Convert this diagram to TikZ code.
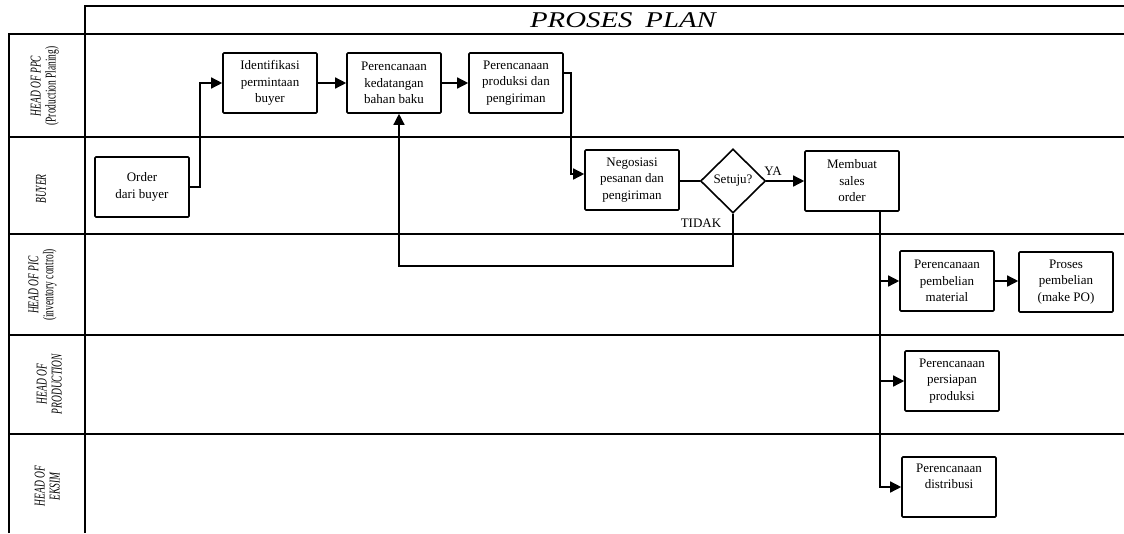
\documentclass[tikz,border=0pt]{standalone}
\usepackage{fontspec}
\usepackage{graphicx}
\setmainfont{Liberation Serif}
\usetikzlibrary{arrows.meta,shapes.geometric}
\newcommand\lanetext[1]{\scalebox{0.63}[1]{\begin{tabular}{@{}c@{}}#1\end{tabular}}}
\begin{document}
\begin{tikzpicture}[x=1pt,y=-1pt,
  frame/.style={line width=1.9pt},
  box/.style={draw, line width=1.6pt, rounded corners=1pt, minimum width=94pt,
    minimum height=60pt, inner sep=0pt, align=center,
    font=\fontsize{13}{16.5}\selectfont},
  decision/.style={draw, diamond, line width=1.6pt, minimum width=65pt,
    minimum height=64pt, inner sep=0pt, font=\fontsize{13}{16.5}\selectfont},
  lane/.style={rotate=90, inner sep=0pt, font=\fontsize{15}{15}\selectfont},
  lbl/.style={inner sep=0pt, font=\fontsize{13}{16.5}\selectfont},
  link/.style={line width=1.4pt},
  arr/.style={line width=1.4pt, -{Triangle[length=11pt,width=11pt]}}]
\useasboundingbox (0,0) rectangle (1124,533);

% swimlane frame
\draw[frame] (85,533) -- (85,6) -- (1124,6);
\draw[frame] (9,533) -- (9,34) -- (1124,34);
\foreach \yy in {137,234,335,434} \draw[frame] (9,\yy) -- (1124,\yy);

% title
\node[inner sep=0pt, font=\fontsize{22.5}{24}\selectfont\itshape] (title) at (623,20)
  {\scalebox{1.28}[1]{PROSES\hspace{0.45em}PLAN}};

% lane labels
\node[lane] (lppc)  at (45,86)  {\lanetext{\textit{HEAD OF PPC}\\(Production Planing)}};
\node[lane] (lbuy)  at (43,189) {\lanetext{\textit{BUYER}}};
\node[lane] (lpic)  at (43,285) {\lanetext{\textit{HEAD OF PIC}\\(inventory control)}};
\node[lane] (lprod) at (51,384) {\lanetext{\textit{HEAD OF}\\\textit{PRODUCTION}}};
\node[lane] (leks)  at (49,486) {\lanetext{\textit{HEAD OF}\\\textit{EKSIM}}};

% process steps
\node[box] (order)  at (142,187) {Order\\dari buyer};
\node[box] (ident)  at (270,83)  {Identifikasi\\permintaan\\buyer};
\node[box] (kedat)  at (394,83)  {Perencanaan\\kedatangan\\bahan baku};
\node[box] (prod)   at (516,83)  {Perencanaan\\produksi dan\\pengiriman};
\node[box] (nego)   at (632,180) {Negosiasi\\pesanan dan\\pengiriman};
\node[decision] (setuju) at (733,181) {Setuju?};
\node[box] (sales)  at (852,181) {Membuat\\sales\\order};
\node[box] (beli)   at (947,281) {Perencanaan\\pembelian\\material};
\node[box] (po)     at (1066,282) {Proses\\pembelian\\(make PO)};
\node[box] (siap)   at (952,381) {Perencanaan\\persiapan\\produksi};
\node[box] (distr)  at (949,487) {Perencanaan\\distribusi\\\strut};

% decision labels
\node[lbl] (ya)    at (773,171) {YA};
\node[lbl] (tidak) at (701,223) {TIDAK};

% connectors
\draw[arr] (order.east) -- ++(10,0) |- (ident.west);
\draw[arr] (ident.east) -- (kedat.west);
\draw[arr] (kedat.east) -- (prod.west);
\draw[arr] ([yshift=10pt]prod.east) -- ++(7,0) |- ([yshift=6pt]nego.west);
\draw[link] (setuju.west -| nego.east) -- (setuju.west);
\draw[arr] (setuju.east) -- (setuju.east -| sales.west);
\draw[arr] (setuju.south) -- ++(0,52) -| ([xshift=5pt]kedat.south);
\draw[arr] ([xshift=28pt]sales.south) |- (beli.west);
\draw[arr] ([xshift=28pt]sales.south) |- (siap.west);
\draw[arr] ([xshift=28pt]sales.south) |- (distr.west);
\draw[arr] (beli.east) -- (beli.east -| po.west);
\end{tikzpicture}
\end{document}
